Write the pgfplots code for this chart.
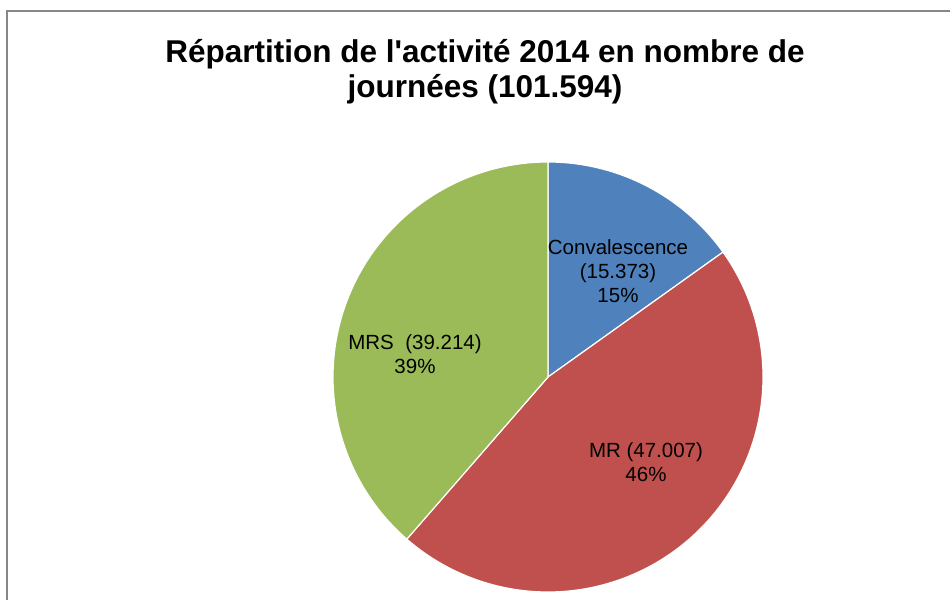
\documentclass[border=0pt]{standalone}
\usepackage{pgfplots}
\usepackage{pgfplotstable}
\pgfplotsset{compat=1.18}
\usepackage{fontspec}
\setmainfont{Liberation Sans}
\definecolor{cblue}{HTML}{4F81BD}
\definecolor{cred}{HTML}{C0504D}
\definecolor{cgreen}{HTML}{9BBB59}
\definecolor{frame}{HTML}{878787}

% values in thousands of days
\pgfplotstableread{
name value
Convalescence 15.373
MR 47.007
MRS 39.214
}\datatable

\begin{document}
\begin{tikzpicture}
\pgfplotstablegetelem{0}{value}\of\datatable \let\va\pgfplotsretval
\pgfplotstablegetelem{1}{value}\of\datatable \let\vb\pgfplotsretval
\pgfplotstablegetelem{2}{value}\of\datatable \let\vc\pgfplotsretval
\pgfmathsetmacro\total{\va+\vb+\vc}
\pgfmathsetmacro\aone{90-360*(\va/\total)}
\pgfmathsetmacro\atwo{\aone-360*(\vb/\total)}
\pgfmathsetmacro\athree{\atwo-360*(\vc/\total)}
\begin{axis}[
  scale only axis, width=950pt, height=600pt,
  xmin=0, xmax=950, ymin=0, ymax=600,
  hide axis, clip=true,
]
\addplot[draw=none, forget plot] coordinates {(0,0) (950,0) (950,600) (0,600)};
\addplot[draw=frame, line width=2pt, line cap=rect] coordinates {(7,1) (7,588.5) (949,588.5)};
% pie slices
\addplot[fill=cblue, draw=white, line width=1.2pt, domain=\aone:90, samples=100, variable=\t]
  ({548+215*cos(\t)},{223+215*sin(\t)}) -- (axis cs:548,223) -- cycle;
\addplot[fill=cred, draw=white, line width=1.2pt, domain=\atwo:\aone, samples=200, variable=\t]
  ({548+215*cos(\t)},{223+215*sin(\t)}) -- (axis cs:548,223) -- cycle;
\addplot[fill=cgreen, draw=white, line width=1.2pt, domain=\athree:\atwo, samples=200, variable=\t]
  ({548+215*cos(\t)},{223+215*sin(\t)}) -- (axis cs:548,223) -- cycle;
% labels
\node[align=center, font=\fontsize{20.5}{24}\selectfont] at (axis cs:618,329) {Convalescence\\(15.373)\\15\%};
\node[align=center, font=\fontsize{20.5}{24}\selectfont] at (axis cs:646,138) {MR (47.007)\\46\%};
\node[align=center, font=\fontsize{20.5}{24}\selectfont] at (axis cs:415,246) {MRS\ \ (39.214)\\39\%};
% title
\node[align=center, font=\bfseries\fontsize{31.5}{35}\selectfont] at (axis cs:485,528) {R\'epartition de l\textquotesingle activit\'e 2014 en nombre de\\journ\'ees (101.594)};
\end{axis}
\end{tikzpicture}
\end{document}
